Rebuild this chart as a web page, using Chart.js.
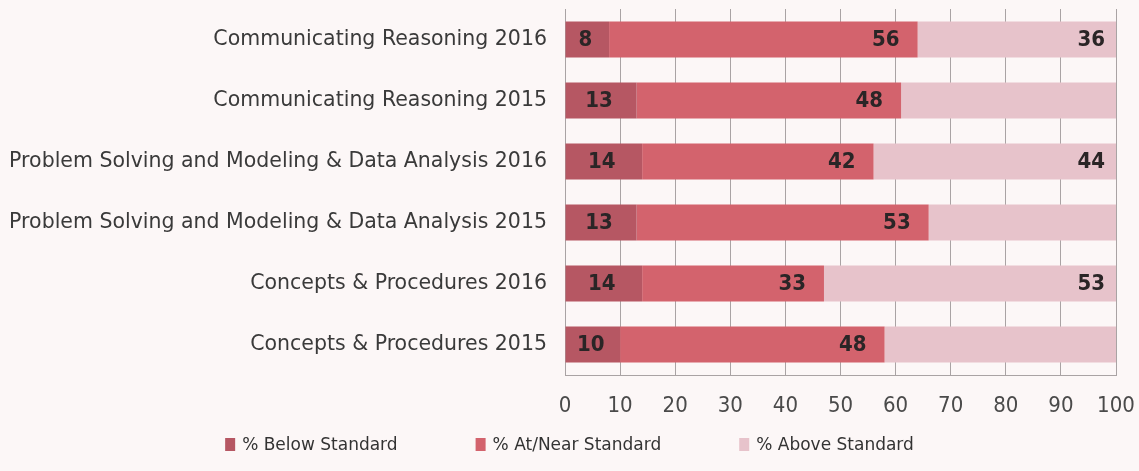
<!DOCTYPE html>
<html lang="en">
<head>
<meta charset="UTF-8">
<title>Standards by claim</title>
<script src="https://cdn.jsdelivr.net/npm/chart.js"></script>
<style>
  html, body { margin: 0; padding: 0; background: #fcf7f7; }
  #wrap { width: 1139px; height: 471px; }
</style>
</head>
<body>
<div id="wrap"><canvas id="claimChart" width="1139" height="471"></canvas></div>
<script>
const categories = [
  'Communicating Reasoning 2016',
  'Communicating Reasoning 2015',
  'Problem Solving and Modeling & Data Analysis 2016',
  'Problem Solving and Modeling & Data Analysis 2015',
  'Concepts & Procedures 2016',
  'Concepts & Procedures 2015'
];
const belowStd = [8, 13, 14, 13, 14, 10];
const nearStd  = [56, 48, 42, 53, 33, 48];
const aboveStd = [36, 39, 44, 34, 53, 42];
// the source only prints some of the "above" numbers
const aboveShown = [true, false, true, false, true, false];
const xTicks = [0, 10, 20, 30, 40, 50, 60, 70, 80, 90, 100];

const colors = ['#b65763', '#d3636d', '#e7c3cb'];

const segLabels = {
  id: 'segLabels',
  afterDatasetsDraw(chart) {
    const ctx = chart.ctx;
    ctx.save();
    ctx.font = 'bold 22px "DejaVu Sans Condensed", "Liberation Sans Narrow", sans-serif';
    ctx.fillStyle = '#2a2526';
    ctx.textBaseline = 'middle';
    chart.data.datasets.forEach((ds, di) => {
      chart.getDatasetMeta(di).data.forEach((bar, i) => {
        if (di === 2 && !aboveShown[i]) return;
        const txt = String(ds.data[i]);
        const y = bar.y + 1;
        if (di === 0) {
          ctx.textAlign = 'center';
          ctx.fillText(txt, (bar.base + bar.x) / 2 - 2, y);
        } else if (di === 1) {
          ctx.textAlign = 'right';
          ctx.fillText(txt, bar.x - 18, y);
        } else {
          ctx.textAlign = 'right';
          ctx.fillText(txt, bar.x - 11, y);
        }
      });
    });
    ctx.restore();
  }
};

// legend drawn by hand so the item spacing can match the source
const wideLegend = {
  id: 'wideLegend',
  afterDraw(chart) {
    const ctx = chart.ctx;
    const y = 445, gap = 78, box = 10, textGap = 7;
    ctx.save();
    ctx.font = '17px "DejaVu Sans", sans-serif';
    ctx.textBaseline = 'middle';
    ctx.textAlign = 'left';
    const items = chart.data.datasets.map(ds => ({
      text: ds.label, color: ds.backgroundColor, w: ctx.measureText(ds.label).width
    }));
    const total = items.reduce((s, it) => s + box + textGap + it.w, 0) + gap * (items.length - 1);
    let x = (chart.width - total) / 2;
    items.forEach(it => {
      ctx.fillStyle = it.color;
      ctx.fillRect(x, y - 7, box, 13);
      ctx.fillStyle = '#333';
      ctx.fillText(it.text, x + box + textGap, y + 1);
      x += box + textGap + it.w + gap;
    });
    ctx.restore();
  }
};

new Chart(document.getElementById('claimChart'), {
  type: 'bar',
  data: {
    labels: categories,
    datasets: [
      { label: '% Below Standard', data: belowStd, backgroundColor: colors[0] },
      { label: '% At/Near Standard', data: nearStd, backgroundColor: colors[1] },
      { label: '% Above Standard', data: aboveStd, backgroundColor: colors[2] }
    ]
  },
  options: {
    indexAxis: 'y',
    responsive: false,
    animation: false,
    categoryPercentage: 1,
    barPercentage: 0.59,
    layout: { padding: { top: 9, right: 23, bottom: 46, left: 0 } },
    scales: {
      x: {
        stacked: true,
        min: 0,
        max: 100,
        afterBuildTicks: s => { s.ticks = xTicks.map(v => ({ value: v })); },
        afterFit: s => { s.height = 50; s.paddingLeft = 0; s.paddingRight = 0; },
        grid: { color: '#a9a3a4', lineWidth: 1, drawTicks: false },
        border: { display: true, color: '#a9a3a4' },
        ticks: {
          padding: 18,
          color: '#4a4a4a',
          font: { family: '"Liberation Sans Narrow", "DejaVu Sans Condensed", sans-serif', size: 22 }
        }
      },
      y: {
        stacked: true,
        afterFit: s => { s.width = 565; s.paddingTop = 0; s.paddingBottom = 0; },
        grid: { display: false, drawTicks: false },
        border: { display: true, color: '#a9a3a4' },
        ticks: {
          padding: 18,
          color: '#3a3a3a',
          font: { family: '"DejaVu Sans", sans-serif', size: 20.5 }
        }
      }
    },
    plugins: {
      legend: { display: false },
      tooltip: { enabled: false }
    }
  },
  plugins: [segLabels, wideLegend]
});
</script>
</body>
</html>
